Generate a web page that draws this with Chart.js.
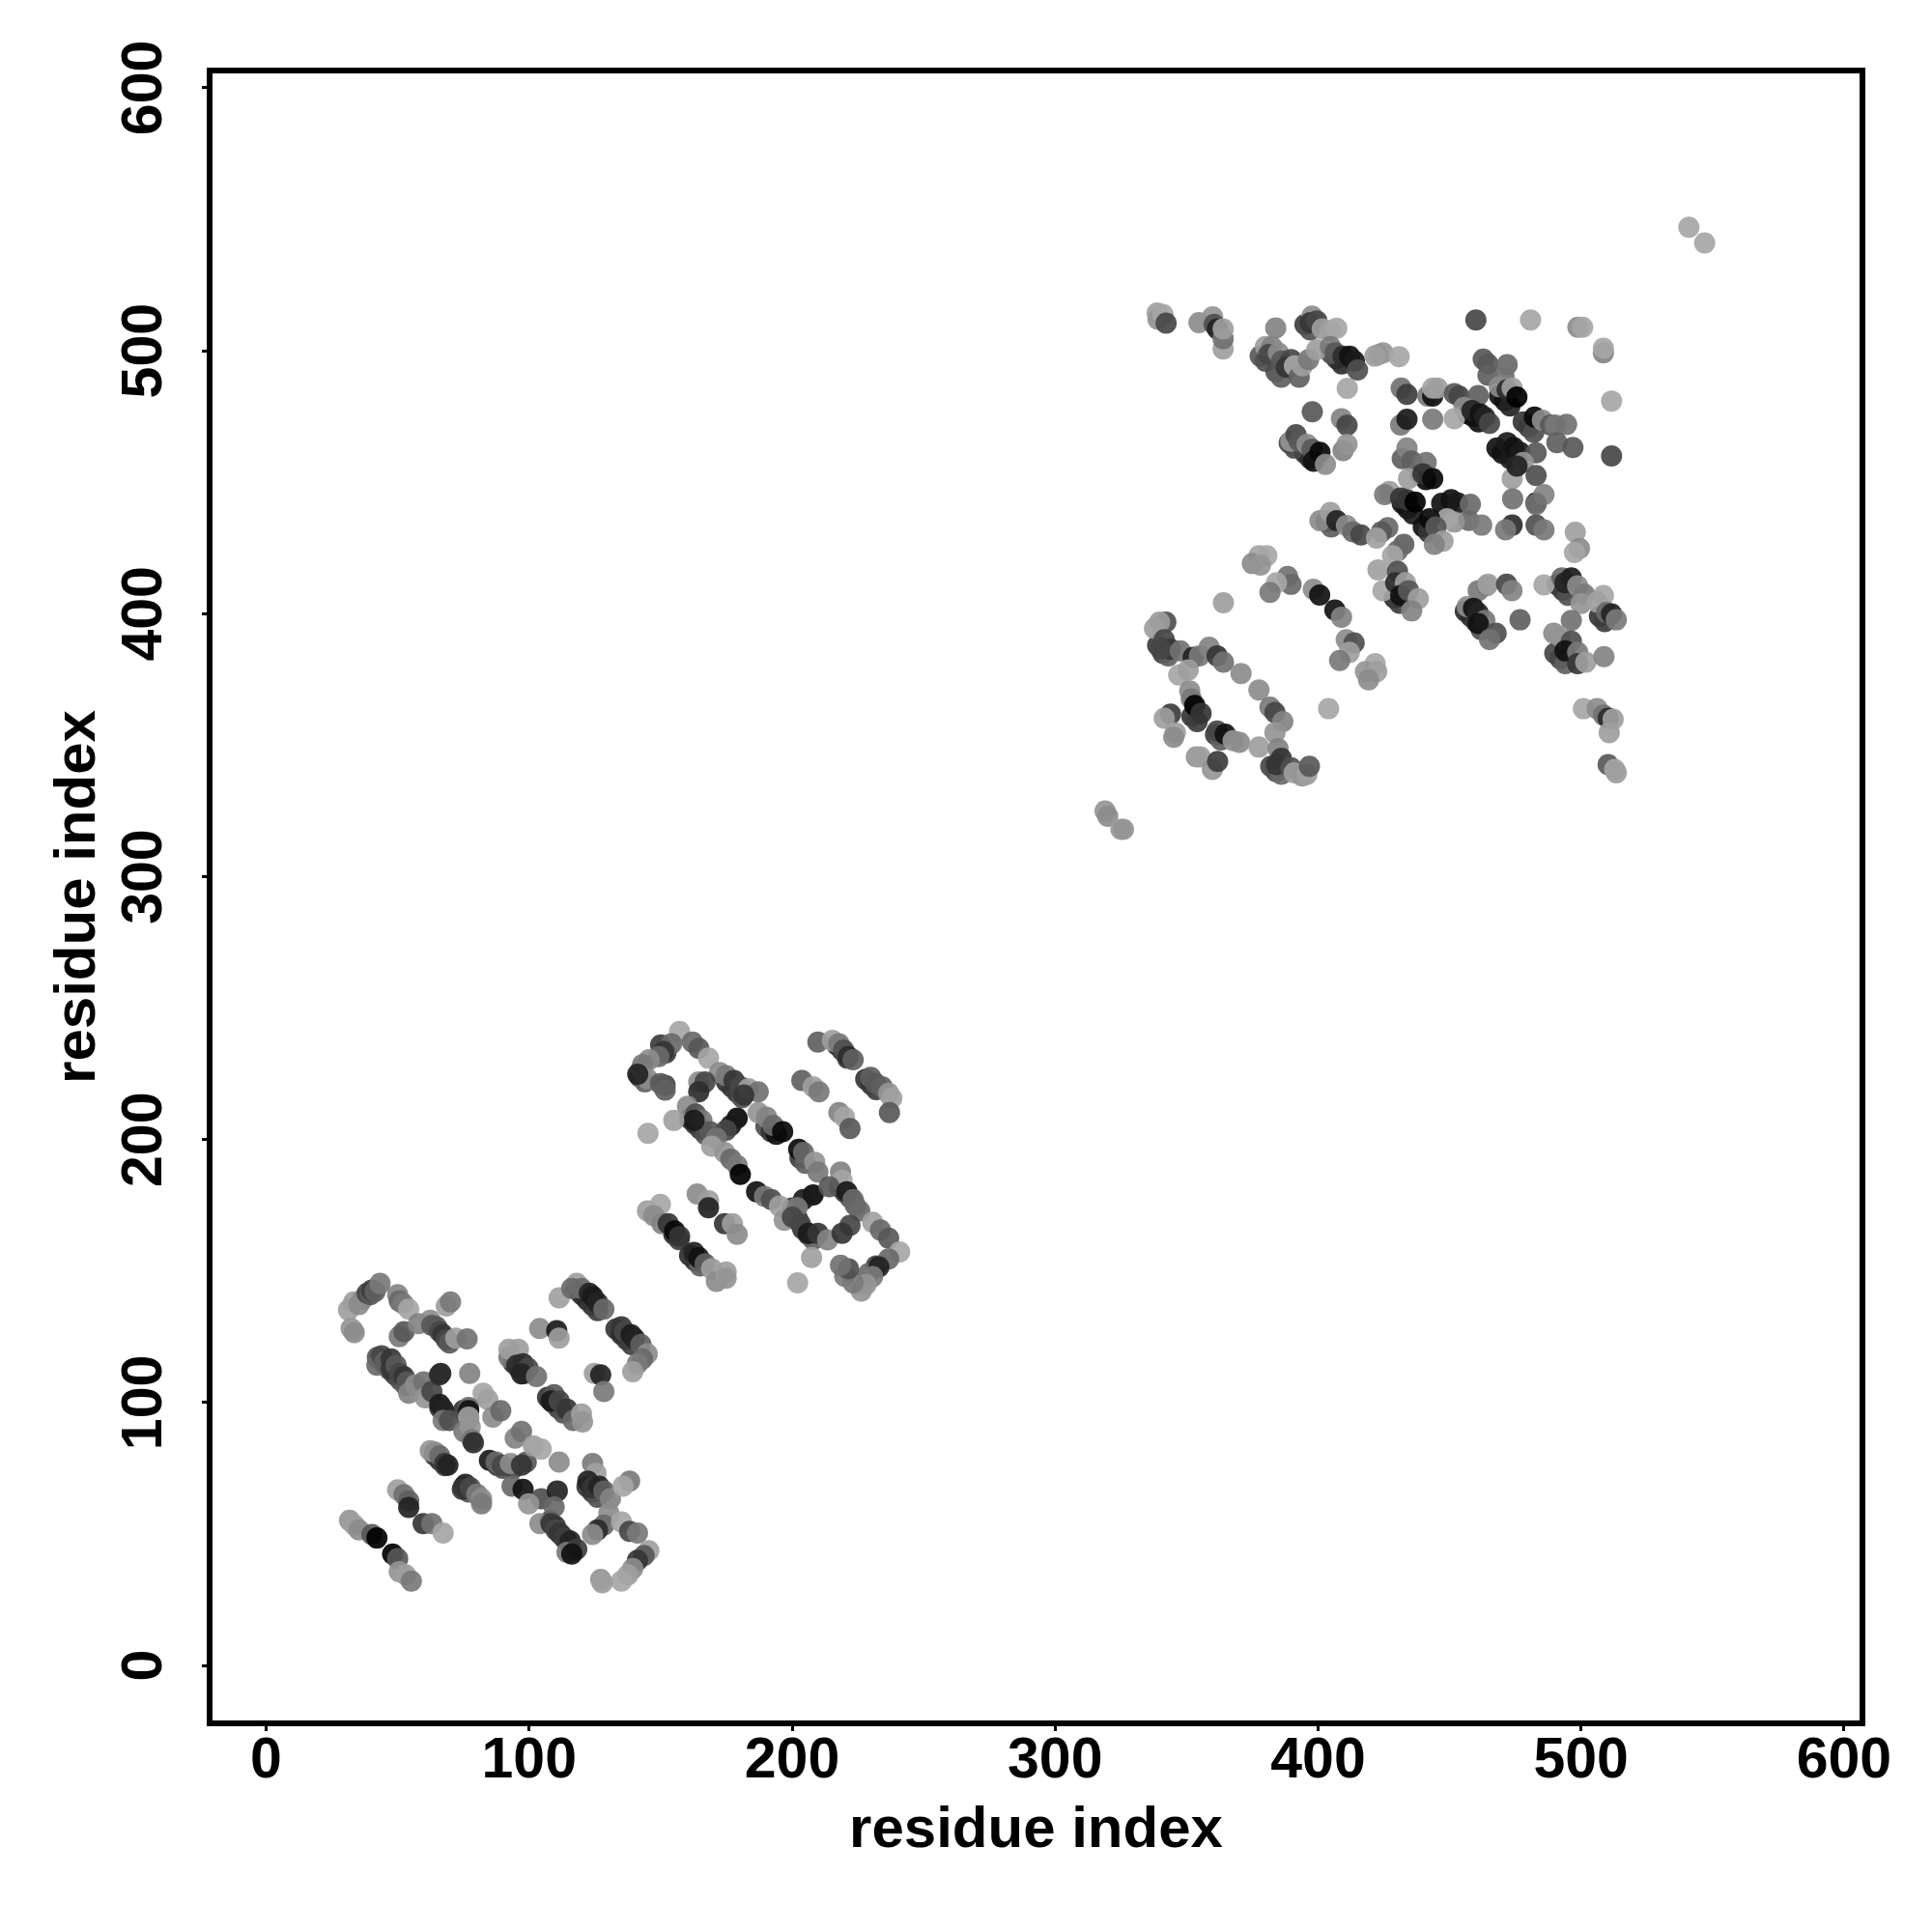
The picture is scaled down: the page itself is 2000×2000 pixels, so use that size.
<!DOCTYPE html>
<html>
<head>
<meta charset="utf-8">
<script src="https://cdn.jsdelivr.net/npm/chart.js@4"></script>
<style>
  html, body { margin: 0; padding: 0; background: #fff; }
  canvas { display: block; }
</style>
</head>
<body>
<canvas id="contactMap" width="2000" height="2000"></canvas>
<script>
// [residue i, residue j, contact score]
// strong contacts that sit underneath the lighter ones
const underLayer = [
  [43,116.5,.55],[45,114.5,.65],[47,112.5,.6],[49,110.5,.65],[51,108.5,.55],[53,106.5,.5],[66,98,.7],[68,96,.6],[75,97,.7],[77,94,.45],
  [64,80,.65],[66,78,.7],[68,76,.65],[75,68,.7],[77,66,.55],[108,55,.65],[110,53,.65],[112,50,.7],[114,48,.7],[116,44,.65],[122,68,.7],[124,66,.7],[126,64,.55],
  [118,143,.7],[120,141,.75],[122,139,.75],[124,137,.7],[126,135,.65],[133,128,.7],[135,126,.75],[137,124,.7],[139,122,.65],[94,115,.7],[96,113,.7],[98,111,.55],
  [107,102,.7],[109,100,.65],[111,98,.65],[113,96,.55],[88,76,.65],[90,75,.55],[94,75,.6],
  [142,224,.7],[144,222,.45],[150,236,.65],[152,233,.65],[175,222,.7],[177,220,.7],[179,218,.65],[181,216,.55],[161,208,.7],[163,206,.7],[165,204,.65],[167,202,.55],
  [190,205,.55],[192,203,.7],[194,202,.9],[203,193,.65],[205,191,.45],[200,174,.65],[202,170,.7],[204,166,.7],[206,164,.65],[208,162,.45],[218,182,.65],[220,180,.65],[222,178,.55],[224,175,.45],
  [155,164,.75],[157,162,.65],[161,156,.75],[163,154,.7],[165,152,.45],[217,236,.7],[219,234,.75],[221,231,.65],[228,223,.7],[230,221,.7],[232,219,.65],[232,152,.6],[229,149,.4],[220,148,.3],
  [469,483,.9],[471,481,.9],[473,479,.8],[459,475,.95],[461,473,.9],[457,476,.9],[468,463,.9],[470,461,.9],[473,459,.85],[476,457,.7],[478,473,.7],[480,471,.65],[482,469,.55],
  [432,442,.9],[434,440,.9],[436,438,.85],[447,442,.9],[449,440,.8],[440,433,.9],[442,431,.7],[441,451,.95],[439,453,.85],[432,459,.45],[429,406,.75],[431,404,.65],
  [456,401,.75],[458,399,.75],[460,397,.7],[462,394,.55],[491,411,.7],[493,409,.65],[495,407,.55],[490,385,.6],[492,383,.6],[494,381,.45],[507,399,.7],[509,397,.65],
  [395,461,.75],[397,459,.75],[389,465,.55],[391,463,.6],[407,497,.75],[409,495,.75],[405,499,.55],[395,510,.65],[397,508,.55],[378,498,.5],[380,496,.55],[384,492,.55],[386,490,.45],
  [352,361,.7],[354,359,.65],[361,354,.65],[363,352,.45],[339,388,.65],[341,385,.65],[343,384,.45],[382,342,.6],[384,340,.55],[386,339,.4],[403,435,.7],[405,433,.45]
];

const domainLow = [
  [31.3,135.2,.1],[33.3,138.3,.1],[35.3,137.3,.2],[36.6,139.2,.2],[38.4,141.6,.6],[39.6,141,.5],[40.2,142.8,.65],[41.4,142.2,.45],[43.3,145.3,.3],
  [50,141,.25],[50.6,138.6,.4],[52.1,137.6,.3],[54.2,135.5,.05],[32.3,128.2,.15],[32.9,127.6,.1],[33.5,126.6,.2],[68.5,136.7,.1],[70.1,138.3,.3],
  [50.6,125.1,.3],[52.4,127,.5],[57.9,130,.25],[62.4,131.3,.2],[63,129.4,.5],[64.8,128.8,.5],[66,127,.6],[67.3,125.8,.7],[68.5,123.9,.6],[69.7,122.7,.5],[72.1,124.5,.1],[76.4,124.2,.35],
  [42.3,117.2,.5],[42.1,114.2,.4],[43.9,117.8,.6],[45.1,115.4,.45],[47.5,116.6,.7],[47.5,113,.7],[49.4,114.2,.5],[50.6,111.1,.6],[52.4,109.9,.7],[53.6,107.9,.5],[54.2,103.6,.25],[56.7,106.7,.2],[59.9,107.9,.35],[60.5,101.8,.15],[63,104.2,.6],[66.4,111.1,.8],[65.9,110.5,.75],
  [66,99.3,.85],[67.3,97.5,.8],[67.3,93.2,.3],[69.7,93.2,.55],[77.4,111.1,.25],[82.5,103.6,.05],[84.3,101.2,.08],[86.2,94.5,.2],[89.2,96.9,.4],[77,98.1,.4],[77,96.9,.9],[77,94.5,.1],[75.2,89,.3],[77.6,90.8,.15],[78.2,85.9,.3],[78.8,84.7,.75],
  [62.4,81.7,.15],[64.2,81.1,.2],[66,79.8,.4],[67.9,76.8,.7],[69.1,76.2,.8],[84.9,78,.85],[87.4,77.4,.4],[89.8,76.2,.6],[92.9,76.8,.2],[98.9,77.4,.5],[97.1,76.2,.7],[94.7,86.5,.25],[97.1,89,.35],[101.6,83.5,.1],[104.6,82.3,.05],[111.4,77.4,.2],
  [50,66.8,.1],[52.4,65,.35],[54.2,62.6,.45],[54.2,60.1,.8],[75.8,68.9,.8],[74.6,67,.7],[77.6,67.6,.6],[80.1,65.2,.3],[81.9,63.4,.2],[81.9,61.5,.3],
  [93.5,68.2,.4],[97.7,67,.9],[104.6,63.4,.55],[110.7,66.4,.8],[109.5,60.3,.4],[104.1,54,.2],[99.8,61.5,.15],[108.3,54,.7],[110.1,51.6,.6],[111.4,50.4,.7],[113.2,48.5,.65],[115.6,47.3,.8],[114.4,43,.3],[118.1,44.2,.65],[116.2,42.4,.9],
  [124.1,76.8,.3],[125.4,73.1,.08],[122.3,70.1,.8],[124.1,67.6,.7],[126.6,68.2,.8],[128.4,66.4,.45],[130.9,63.4,.25],[130.3,57.9,.2],[138.2,70.1,.3],[135.7,68.2,.05],
  [128.4,53.4,.4],[126,51.6,.75],[124.1,49.8,.2],[135.1,54.6,.05],[138.2,51,.6],[141.2,50.4,.3],[145.5,43.7,.08],[143.7,41.8,.5],[141.2,40,.7],[139.4,36.9,.2],[137.6,34.5,.1],[135.1,32.1,.05],[127.2,32.7,.15],[127.8,31.5,.1],
  [31.7,55.2,.15],[33.5,53.4,.1],[35.3,51.6,.2],[40.2,49.8,.5],[42.1,48.5,1],[48.1,42.4,1],[50,40.6,.5],[50.6,35.7,.15],[53,34.5,.1],[55.2,32.1,.3],[59.7,54,.7],[63,54,.35],[67.3,50.4,.05],
  [111.4,139.8,.08],[118.1,145.3,.1],[116.2,143.4,.4],[119.9,143.4,.4],[122.9,141.6,.8],[124.2,140.4,.85],[126,138,.8],[128.4,135.5,.4],
  [135.1,128.8,.7],[136.4,127,.6],[138.8,125.8,.85],[140,124.5,.8],[142.5,122.1,.45],[144.9,118.5,.2],[143.1,116.6,.4],[141.2,114.8,.3],[139.4,111.7,.1],
  [104,128.2,.2],[110.5,127.3,.85],[111.4,124.5,.1],[92.3,117.2,.3],[92.3,120.3,.1],[95.9,120.3,.1],[95.3,114.2,.75],[97.7,114.8,.75],[99.6,113,.6],[97.1,110.9,.8],[102.8,109.9,.35],
  [109.5,103,.5],[108.3,100.6,.85],[111.4,100.6,.6],[114.4,97.5,.7],[116.8,93.2,.4],[119.9,95.7,.1],[120.3,92.6,.15],[124.8,111.1,.1],[127.2,110.5,.8],[128.4,104.2,.3]
];

const domainMid = [
  [157.2,241.1,.05],[154.1,236.5,.4],[151.1,233.5,.7],[149.3,231.6,.4],[145.6,230.4,.2],[142.6,226.8,.1],[143.2,228.6,.3],[145,223.1,.2],[141.3,224.9,.8],[151.7,220.7,.6],[149.9,221.3,.5],[151.7,218.8,.45],
  [162.1,237.1,.4],[164.5,234.7,.5],[168.2,231,.05],[172.4,225.5,.2],[174.9,224.3,.3],[177.9,222.5,.7],[180.3,220.1,.6],[183.4,219.4,.1],[187.1,218.2,.35],[181.6,217,.7],
  [164.5,221.9,.2],[166.9,221.9,.6],[164.5,218.2,.75],[160.2,212.7,.2],[163.3,209.7,.55],[165.7,207.3,.3],[168.8,203,.5],[162.7,207.3,.85],[155,207.3,.08],[145.2,202.4,.05],
  [179.1,208.2,.95],[176.7,205.4,.85],[174.9,203.6,.6],[171.2,200.5,.35],[169.4,197.5,.1],[174.3,195.1,.15],[176.7,192.6,.4],[179.1,190.2,.3],[180.3,186.8,1],
  [187.1,210.3,.15],[190.3,208.5,.25],[192.8,205.4,.4],[196.4,203,.95],[202.5,196.3,.95],[204.3,195.1,.4],[208.6,191.4,.15],[209.8,187.7,.3],
  [186.5,180.2,.9],[189.5,178.4,.3],[192.1,177.2,.55],[195.2,174.7,.1],[197,169.3,.15],
  [208,179,.95],[204.3,177.2,.85],[201.9,174.1,.3],[200.1,170.5,.6],[203.1,168,.6],[206.2,164.4,.85],[209.8,164.4,.7],[213.5,161.9,.25],[207.4,155.2,.08],[202.1,145.5,.05],
  [218.4,187.7,.25],[219,184.5,.05],[214.1,182.1,.5],[220.8,180.2,.85],[223.2,177.2,.4],[225.7,172.9,.4],[222,167.4,.6],[219,164.4,.7],[230.6,168.6,.08],[233.6,165.6,.4],[236.7,162.5,.5],
  [240.9,157.3,.05],[236.7,154.6,.4],[233,151.6,.8],[230.6,147.9,.3],[228.1,144.9,.15],[226.3,142.4,.15],[223.2,145.5,.3],[221.4,150.9,.55],[218.4,152.2,.35],
  [209.8,237.1,.45],[215.3,237.7,.1],[217.8,236.5,.3],[219.6,234.1,.55],[221.4,231.6,.75],[223.2,230.4,.45],[229.9,223.7,.45],[231.8,221.3,.5],[234.2,220.1,.45],[236.7,217.6,.15],[237.9,215.8,.08],[237,210.3,.5],
  [203.7,222.5,.45],[208,220.1,.1],[210.2,218.2,.3],[217.8,210.3,.25],[219.9,208.5,.05],[222,204.2,.5],
  [163.9,179.3,.2],[168.2,176.8,.1],[168.2,174.1,.8],[174.3,168,.7],[177.3,168,.1],[179.1,164,.2],
  [145,172.9,.1],[149.9,175.4,.05],[147.4,171.1,.2],[150.5,168,.25],[152.9,168,.7],[155.3,165.3,.95],[157.2,163.2,.7],
  [162.7,157.1,.8],[164.5,155.2,.9],[166.9,152.8,.45],[169.4,150.9,.1],[171.2,146.1,.2],[174.9,149.7,.1],[174.9,147.3,.15]
];

const domainHigh = [
  [319,325,.15],[320,323,.2],[325,318,.1],[326,318,.15],[541,547,.05],[547,541,.05],
  [377.5,422.1,.05],[375,419.1,.2],[380.5,422.1,.05],[378.1,418.5,.15],[388.4,414.2,.35],[389.7,411.2,.4],[384.2,411.8,.05],[381.7,408.1,.3],[398.2,409.3,.2],[400.6,407.1,.9],[406.4,401.4,.9],[408.9,398.7,.25],[364,404.2,.1],
  [410.7,390.1,.2],[413.7,388.9,.55],[411.9,385.3,.1],[408.2,382.2,.3],[421.7,381,.05],[418,378,.15],[422.3,378,.1],[419.2,374.9,.2],[404,363.9,.05],
  [342.1,396.8,.55],[337.8,394.4,.1],[339.7,396.8,.1],[341.5,390.1,.6],[343.9,386.5,.7],[340.2,386.5,.6],[347.6,385.9,.35],[352.5,383.4,.8],[354.9,384,.3],[358.6,387.3,.25],[361.6,384,.7],[364,381.6,.35],[347,376.7,.05],[350.6,378.6,.1],[370.7,377.3,.2],[377.5,371,.2],
  [381.7,364.5,.3],[383.6,362.5,.6],[386.6,359,.25],[383.6,354.8,.15],[351.2,370.6,.2],[351.8,367.6,.3],[353.1,365.1,1],[355.5,362.1,.7],[343.9,361.8,.65],[341.5,360.3,.1],[345.7,354.8,.1],[345.1,353,.2],
  [361.6,355.4,.6],[364.7,354.2,.9],[367.7,351.7,.15],[370.1,351.1,.2],[377.5,349.3,.1],[353.7,345.6,.15],[355.2,345.6,.1],[359.8,340.8,.15],[361.8,343.8,.65],
  [384.8,348.7,.25],[386,345,.7],[384.2,342.6,.7],[389.7,341.4,.55],[390.9,339.5,.1],[393.9,338.3,.15],[395.7,338.9,.1],[396.7,342,.5],
  [338.8,514.4,.08],[339.1,512,.15],[341,513.8,.05],[342.2,510.5,.6],[354.7,510.7,.2],[359.9,512.9,.15],[360.5,510.1,.55],[361.7,508.3,.8],[363.9,500.7,.1],[363.9,504.6,.35],[363.9,508.3,.1],
  [383.9,508.7,.25],[380,501.6,.1],[382.4,501.6,.25],[381.2,498.6,.6],[384.9,499.2,.2],[386.1,496.1,.5],[389.7,496.7,.6],[387.9,493.7,.7],[391,494.3,.05],[392.8,490,.45],[394,494.3,.1],[396.4,496.7,.3],[399.5,500.4,.1],
  [397.7,513.2,.2],[397.1,510.7,.7],[399.5,511.4,.6],[401.6,508.3,.1],[404.7,507.7,.08],[407.1,508.6,.05],[404.7,501.6,.3],[406.5,499.2,.5],[409.5,497.9,.75],[412,497.9,.9],[413.8,496.1,.85],[415,492.7,.55],[411.1,485.7,.05],[423,498.6,.1],
  [397.8,476.8,.5],[408.9,474.2,.25],[411,471.7,.6],[409.5,462,.25],[411,464.4,.15],[389.7,465.6,.15],[391.6,468.1,.6],[392.8,465.6,.5],[395.8,464.4,.2],[397.7,462.6,.5],[398.3,458,.9],[400.7,461.4,.95],[402.8,456.8,.2],
  [400.7,435.4,.2],[404.7,438.5,.1],[407.1,435.4,.8],[410.8,433.6,.2],[413.2,431.2,.4],[416.3,430,.6],
  [460,511.7,.6],[480.8,511.7,.05],[498.8,509,.2],[500.6,509,.05],[508.5,499.2,.25],[508.5,501,.05],[511.6,480.9,.05],[511.6,460,.6],
  [424.7,499.2,.15],[430.8,497.8,.05],[421.6,498,.1],[462.8,496.8,.5],[464.6,495,.5],[464.6,490.7,.45],[471.9,494.7,.4],[470.7,490.1,.35],[468.9,486.4,.2],[471.9,485.2,.75],[473.8,485.8,.1],[475.6,482.4,1],
  [431.6,485.8,.35],[433.8,483.4,.65],[441.7,482.8,.3],[443.6,482.8,.9],[443.6,485.8,.05],[445.4,485.8,.1],[451.8,483.7,.5],[453.6,482.8,.6],[460.9,483,.45],
  [455.5,478.5,.2],[451.8,474.2,.05],[458.5,477.3,.8],[461.6,476,.9],[463.4,474.8,.8],[465.2,472.4,.6],[431.4,471.8,.3],[433.8,474,.85],[443.6,474,.3],
  [471.9,465.1,.85],[474.4,463.2,.9],[476.8,461.4,.85],[482.9,461.2,.5],[478,457.5,.15],[482.9,452.6,.55],[473.8,451.4,.1],[475.6,456.2,.8],
  [482.3,474.8,.95],[485.3,473.6,.2],[488.4,471.8,.5],[490.2,471.8,.3],[494.5,472,.35],[490.8,465.1,.45],[496.9,463.2,.5],
  [433.8,463,.25],[435.6,458.1,.45],[434.4,451.4,.1],[441.1,457.5,.35],[439.9,453.2,.7],[443.6,451.4,.95],
  [427.1,446.5,.1],[425.3,445.3,.3],[431.4,444,.7],[433.8,443.4,.7],[436.9,442.5,1],[450.6,443.4,.9],[453,442.2,.85],[457.9,441.6,.4],[457.3,435.5,.4],[462.2,433.7,.3],[451.8,434.9,.15],[449.1,436.1,.05],
  [442.4,436.1,.95],[444.8,433,.5],[447.5,427.6,.1],[444.2,426.4,.25],[473.8,433.7,.75],[471.3,431.9,.3],[474,443.7,.35],[482.9,442.2,.8],[485.9,445.3,.25],[482.9,441.6,.35],[482.9,433.7,.55],[485.9,431.9,.3],
  [497.8,431,.08],[499.4,424.8,.2],[497.5,423.3,.05],[426.5,432.7,.4],[424.1,431.2,.5],[422.2,428.8,.08],[432.6,426.4,.45],[430.2,423.9,.4],[428.3,422.1,.05],
  [422.8,416.7,.08],[424.7,408.8,.05],[430.2,416.1,.55],[429.5,411.8,.75],[433.2,411.8,.1],[431.4,406.9,.9],[434.4,408.8,.5],[438.1,405.7,.1],[435.6,401.1,.25],
  [464,410.6,.15],[460.9,408.8,.3],[464.6,411.2,.1],[471.7,411.2,.6],[473.7,408.8,.25],[476.8,397.7,.45],
  [456.7,402.7,.2],[459.1,402.1,.9],[460.9,400.2,.8],[463.4,397.5,.3],[460.9,396.3,.9],[467.7,392.6,.55],[465.2,390.2,.35],
  [485.9,411,.05],[492.7,413.6,.4],[496.3,413.6,.85],[493.9,411.8,.8],[498.7,410.6,.2],[501.2,407.5,.3],[500,403.9,.15],[508.5,406.9,.05],[506.1,404.5,.08],[509.7,400.5,.4],[511.6,399.9,.8],[513.4,397.7,.3],
  [496.3,397.5,.35],[489.6,392.6,.2],[492,391.4,.15],[496.3,389.6,.55],[493.9,385.9,.9],[498.7,385.3,.3],[498.7,381,.7],[501.8,381.6,.1],[508.7,383.7,.25],
  [500.9,363.9,.05],[506.1,363.9,.2],[508.5,361.5,.35],[510.3,360.3,.75],[512.2,359.9,.1],[510.7,354.8,.1],[510.3,342.6,.5],[512.8,340.8,.05],[513.4,339.5,.1]
];

const tickValues = [0, 100, 200, 300, 400, 500, 600];
const axisLabel = 'residue index';

const contacts = underLayer.concat(domainLow, domainMid, domainHigh);
const points = contacts.map(c => ({x: c[0], y: c[1]}));

function shade(score){
  let g = Math.round(175 * (1 - score));
  return 'rgba(' + g + ',' + g + ',' + g + ',0.92)';
}

// R style box around the plot
const boxPlugin = {
  id: 'box',
  afterDatasetsDraw(chart){
    let a = chart.chartArea;
    let ctx = chart.ctx;
    ctx.save();
    ctx.lineWidth = 6;
    ctx.strokeStyle = '#000';
    ctx.strokeRect(a.left, a.top, a.right - a.left, a.bottom - a.top);
    ctx.restore();
  }
};

const tickFont = {family: '"Liberation Sans"', weight: 'bold', size: 59};
const titleFont = {family: '"Liberation Sans"', weight: 'bold', size: 60};

function axisOptions(min, max){
  return {
    type: 'linear',
    min: min,
    max: max,
    afterBuildTicks(scale){ scale.ticks = tickValues.map(v => ({value: v})); },
    grid: {drawOnChartArea: false, drawTicks: true, tickLength: 8, tickWidth: 3, tickColor: '#000'},
    border: {display: false},
    title: {display: true, text: axisLabel, color: '#000', font: titleFont},
    ticks: {color: '#000', font: tickFont, autoSkip: false, callback: v => String(v)}
  };
}

const xAxis = axisOptions(-21.5, 607);
xAxis.title.padding = {top: 0, bottom: 69};
xAxis.ticks.padding = -4;
xAxis.ticks.maxRotation = 0;
xAxis.afterFit = scale => { scale.height = 216; };

const yAxis = axisOptions(-22, 606.6);
yAxis.title.padding = {top: 45, bottom: 0};
yAxis.ticks.padding = 9;
yAxis.ticks.minRotation = 90;
yAxis.ticks.maxRotation = 90;
yAxis.ticks.crossAlign = 'center';
yAxis.afterFit = scale => { scale.width = 217; };

new Chart(document.getElementById('contactMap'), {
  type: 'scatter',
  data: {
    datasets: [{
      data: points,
      pointRadius: 11,
      pointHoverRadius: 11,
      pointBorderWidth: 0,
      pointBackgroundColor: contacts.map(c => shade(c[2]))
    }]
  },
  options: {
    responsive: false,
    animation: false,
    devicePixelRatio: 1,
    layout: {padding: {top: 73, right: 72, left: 0, bottom: 0}},
    plugins: {legend: {display: false}, tooltip: {enabled: false}},
    scales: {x: xAxis, y: yAxis}
  },
  plugins: [boxPlugin]
});
</script>
</body>
</html>
